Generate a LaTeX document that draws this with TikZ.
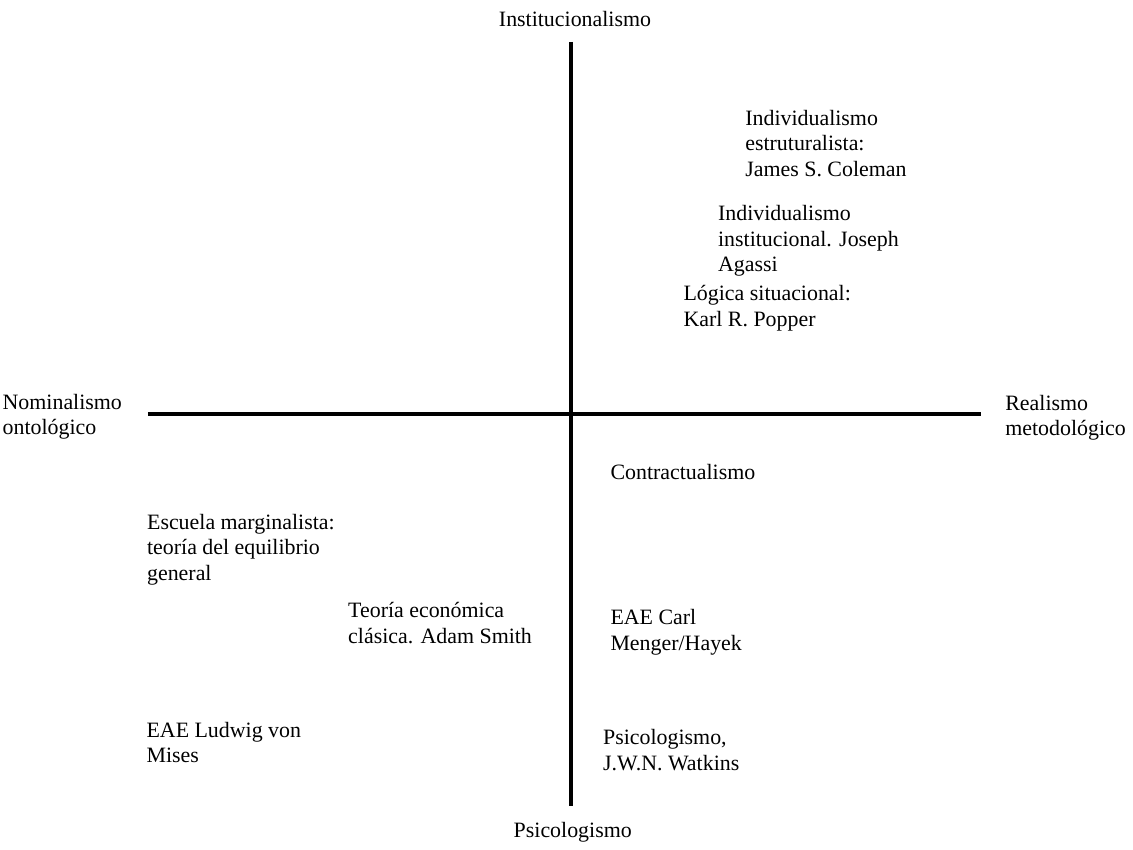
\documentclass[tikz,border=0pt]{standalone}
\usepackage{fontspec}
\setmainfont{Liberation Serif}
\begin{document}
\begin{tikzpicture}[label/.style={inner sep=0pt, align=left, anchor=north west, font=\fontsize{11}{12.8}\selectfont},
    pole/.style={inner sep=0pt, font=\fontsize{11}{12.8}\selectfont}]
    \useasboundingbox (0,0) rectangle (20,15);
    % ejes
    \coordinate (ntop) at (10.08,14.26);
    \coordinate (nbot) at (10.08,0.77);
    \coordinate (nleft) at (2.61,7.69);
    \coordinate (nright) at (17.32,7.69);
    \draw [line width=2pt] (ntop)--(nbot);
    \draw [line width=2pt] (nleft)--(nright);
    % polos
    \node[pole] (inst) at (10.15,14.66) {Institucionalismo};
    \node[pole] (psic) at (10.11,0.31) {Psicologismo};
    \node[label] (nomi) at (0.04,8.05) {Nominalismo\\ontológico};
    \node[label] (real) at (17.74,8.03) {Realismo\\metodológico};
    % cuadrante superior derecho
    \node[label] (cole) at (13.15,13.06) {Individualismo\\estruturalista:\\James S. Coleman};
    \node[label] (agas) at (12.67,11.38) {Individualismo\\institucional. Joseph\\Agassi};
    \node[label] (popp) at (12.06,9.97) {Lógica situacional:\\Karl R. Popper};
    % cuadrante inferior derecho
    \node[label] (cont) at (10.77,6.81) {Contractualismo};
    \node[label] (meng) at (10.77,4.25) {EAE Carl\\Menger/Hayek};
    \node[label] (watk) at (10.64,2.13) {Psicologismo,\\J.W.N. Watkins};
    % cuadrante inferior izquierdo
    \node[label] (marg) at (2.59,5.93) {Escuela marginalista:\\teoría del equilibrio\\general};
    \node[label] (smit) at (6.14,4.37) {Teoría económica\\clásica. Adam Smith};
    \node[label] (mise) at (2.58,2.26) {EAE Ludwig von\\Mises};
\end{tikzpicture}
\end{document}
